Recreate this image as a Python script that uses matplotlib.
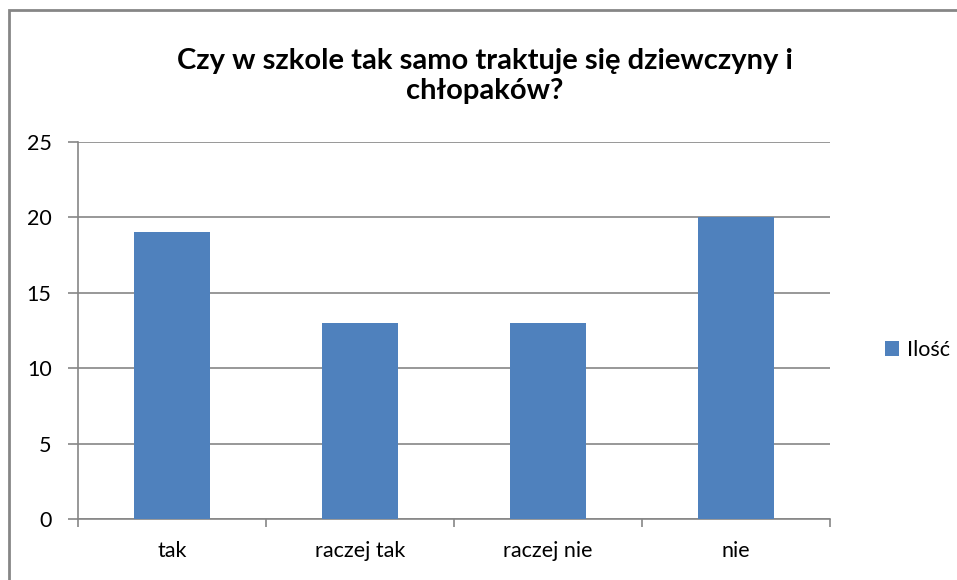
import matplotlib.pyplot as plt
from matplotlib.patches import Rectangle

categories = ['tak', 'raczej tak', 'raczej nie', 'nie']
values = [19, 13, 13, 20]
series_name = 'Ilość'
yticks = [0, 5, 10, 15, 20, 25]

plt.rcParams['font.family'] = ['Lato', 'DejaVu Sans']

W, H = 957, 580
fig = plt.figure(figsize=(W / 100, H / 100), dpi=100)
ax = fig.add_axes([78 / W, 1 - 519 / H, (830 - 78) / W, (519 - 142) / H])

grid_c = '#868686'
bar_c = '#4F81BD'

x = list(range(len(categories)))
ax.bar(x, values, width=0.4, color=bar_c, zorder=3, label=series_name)
ax.set_xlim(-0.5, len(categories) - 0.5)
ax.set_ylim(0, 25)
ax.set_yticks(yticks)
ax.yaxis.grid(True, color=grid_c, linewidth=1.2, zorder=0)

# category ticks sit between categories
ax.set_xticks(x)
ax.set_xticklabels(categories, fontsize=15.5)
ax.tick_params(axis='x', length=0, pad=16)
ax.set_xticks([i - 0.5 for i in range(len(categories) + 1)], minor=True)
ax.tick_params(axis='x', which='minor', length=6, width=1.2, color=grid_c)
ax.tick_params(axis='y', length=7, width=1.2, color=grid_c, labelsize=15.5, pad=12)

for side in ['top', 'right']:
    ax.spines[side].set_visible(False)
for side in ['left', 'bottom']:
    ax.spines[side].set_color(grid_c)
    ax.spines[side].set_linewidth(1.2)

fig.text(485 / W, 1 - 76 / H, 'Czy w szkole tak samo traktuje się dziewczyny i\nchłopaków?',
         ha='center', va='center', fontsize=21, fontweight='bold', linespacing=1.15)

ax.legend(loc='center left', bbox_to_anchor=(866 / W, 1 - 350 / H), bbox_transform=fig.transFigure,
          frameon=False, fontsize=15.5, handlelength=0.65, handleheight=0.65, handletextpad=0.35)

fig.patches.append(Rectangle((9 / W, -0.1), 1.2, 1 - 10 / H + 0.1, transform=fig.transFigure,
                             fill=False, edgecolor=grid_c, linewidth=2))

fig.savefig('out.png', dpi=100)
